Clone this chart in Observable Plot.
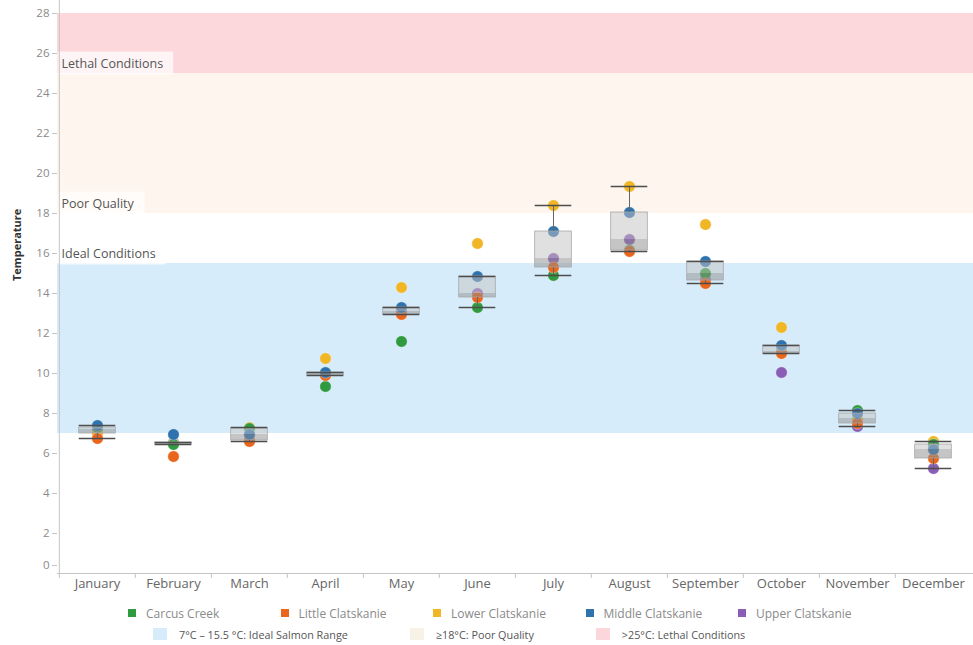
<!DOCTYPE html>
<html>
<head>
<meta charset="utf-8">
<script src="https://cdn.jsdelivr.net/npm/d3@7"></script>
<script src="https://cdn.jsdelivr.net/npm/@observablehq/plot@0.6"></script>
<style>
  body { margin: 0; background: #fff; font-family: "Open Sans", sans-serif; }
  #chart { width: 973px; }
  #chart svg { display: block; }
  .legend-row { display: flex; align-items: center; white-space: nowrap; }
  .legend-sites { margin-top: 5px; padding-left: 128px; height: 16px; }
  .legend-sites .item { width: 152.5px; display: flex; align-items: center; font-size: 12px; color: #8a8a8a; }
  .legend-sites .sw { width: 8px; height: 8px; margin-right: 10px; flex: none; }
  .legend-bands { margin-top: 5px; padding-left: 153px; height: 16px; gap: 62px; }
  .legend-bands .item { display: flex; align-items: center; font-size: 10.8px; color: #555; }
  .legend-bands .sw { width: 14px; height: 12px; margin-right: 12px; flex: none; }
</style>
</head>
<body>
<div id="chart"></div>
<script>
// Months on the x axis
const months = ["January", "February", "March", "April", "May", "June",
  "July", "August", "September", "October", "November", "December"];

// Monitoring sites and their colours
const sites = ["Carcus Creek", "Little Clatskanie", "Lower Clatskanie", "Middle Clatskanie", "Upper Clatskanie"];
const siteColors = ["#2f9a3f", "#ea661d", "#f0b625", "#2f73ae", "#8a5db6"];

// Monthly water temperature (°C) at each site, January → December
const carcusCreek      = [7.30, 6.45, 7.25,  9.35, 11.60, 13.30, 14.90, 16.15, 15.00, 11.10, 8.15, 6.45];
const littleClatskanie = [6.75, 5.85, 6.60,  9.90, 12.95, 13.80, 15.30, 16.10, 14.50, 11.00, 7.50, 5.75];
const lowerClatskanie  = [7.00, 6.50, 7.30, 10.75, 14.30, 16.50, 18.40, 19.35, 17.45, 12.30, 7.75, 6.60];
const middleClatskanie = [7.40, 6.95, 6.95, 10.05, 13.30, 14.85, 17.10, 18.05, 15.60, 11.40, 8.00, 6.20];
const upperClatskanie  = [7.20, 6.55, 6.65, 10.00, 13.10, 14.00, 15.75, 16.70, 14.65, 10.05, 7.35, 5.25];

// Temperature thresholds for salmon
const bandNames  = ["Ideal Conditions", "Poor Quality", "Lethal Conditions"];
const bandLow    = [7, 18, 25];
const bandHigh   = [15.5, 25, 28];
const bandLabelAt = [15.5, 18, 25];   // threshold each label sits on
const bandLegend = ["7°C – 15.5 °C: Ideal Salmon Range", "≥18°C: Poor Quality", ">25°C: Lethal Conditions"];
const bandColors = ["#d6ecfa", "#fdf5ee", "#fcd7dc"];
const bandSwatch = ["#d6ecfa", "#f6f2e5", "#fbd6da"];

// Y axis tick values
const tempTicks = [0, 2, 4, 6, 8, 10, 12, 14, 16, 18, 20, 22, 24, 26, 28];

// ---- derived tables ----
const seriesBySite = [carcusCreek, littleClatskanie, lowerClatskanie, middleClatskanie, upperClatskanie];
// draw order of the dots (later ones sit on top)
const drawOrder = [4, 2, 0, 1, 3];
const rows = drawOrder.flatMap(j => months.map((m, i) => ({month: m, site: sites[j], temp: seriesBySite[j][i]})));

// Box-and-whisker statistics per month (whiskers to the last value within 1.5 IQR)
const stats = months.map((m, i) => {
  const v = seriesBySite.map(s => s[i]).sort(d3.ascending);
  const q1 = d3.quantile(v, 0.25), med = d3.quantile(v, 0.5), q3 = d3.quantile(v, 0.75);
  const iqr = q3 - q1;
  const lo = d3.min(v.filter(x => x >= q1 - 1.5 * iqr));
  const hi = d3.max(v.filter(x => x <= q3 + 1.5 * iqr));
  return {month: m, q1, med, q3, lo, hi};
});

const bands = bandNames.map((name, i) => ({name, lo: bandLow[i], hi: bandHigh[i], at: bandLabelAt[i]}));

// ---- layout ----
const W = 973, H = 600, ML = 57, MB = 27;
const bw = (W - ML) / months.length;    // width of one month band
const boxInset = bw * 0.258;            // boxes take about half a band
const yTop = (H - MB) / 20;             // 20 px per degree

const bandMarks = bands.map((b, i) =>
  Plot.rect([b], {y1: "lo", y2: "hi", fill: bandColors[i]}));

const chart = Plot.plot({
  width: W, height: H,
  marginLeft: ML, marginRight: 0, marginTop: 0, marginBottom: MB,
  style: {fontFamily: "'Open Sans', sans-serif", background: "transparent", overflow: "visible"},
  x: {type: "band", domain: months, padding: 0, label: null},
  y: {domain: [0, yTop], label: null},
  color: {domain: sites, range: siteColors},
  marks: [
    ...bandMarks,
    // threshold labels
    Plot.text(bands, {
      y: "at", text: "name", frameAnchor: "left", textAnchor: "start",
      dx: 4, dy: -10, fontSize: 12.5, fill: "#555"
    }),
    // axes
    Plot.ruleY([0], {stroke: "#c4c4c4"}),
    Plot.ruleX([months[0]], {x: d => d, dx: -bw / 2, stroke: "#c4c4c4"}),
    Plot.ruleX(months, {x: d => d, dx: -bw / 2, y1: 0, y2: -0.25, stroke: "#c4c4c4"}),
    Plot.axisX({tickSize: 0, tickPadding: 5, fontSize: 13, color: "#666"}),
    Plot.axisY({ticks: tempTicks.filter(t => t > 0), tickSize: 5, tickPadding: 3, fontSize: 11.5, color: "#8a8a8a", stroke: "#c4c4c4"}),
    Plot.axisY({ticks: [0], tickSize: 5, tickPadding: 3, fontSize: 11.5, color: "#8a8a8a", stroke: "#c4c4c4", dy: -8}),
    Plot.text(["Temperature"], {text: d => d, frameAnchor: "left", rotate: -90, dx: -40, dy: -6, fontSize: 11, fontWeight: "bold", fill: "#333"}),
    // site readings
    Plot.dot(rows, {x: "month", y: "temp", fill: "site", r: 5.7, stroke: "#fff", strokeWidth: 0.6, strokeOpacity: 0.6}),
    // boxes (drawn over the dots, translucent)
    Plot.barY(stats, {x: "month", y1: "med", y2: "q3", fill: "#c2c2c2", fillOpacity: 0.5, insetLeft: boxInset, insetRight: boxInset}),
    Plot.barY(stats, {x: "month", y1: "q1", y2: "med", fill: "#8c8c8c", fillOpacity: 0.5, insetLeft: boxInset, insetRight: boxInset}),
    Plot.barY(stats, {x: "month", y1: "q1", y2: "q3", fill: "none", stroke: "#a8a8a8", strokeWidth: 0.8, insetLeft: boxInset, insetRight: boxInset}),
    // whiskers
    Plot.ruleX(stats, {x: "month", y1: "q3", y2: "hi", stroke: "#666", strokeWidth: 1}),
    Plot.ruleX(stats, {x: "month", y1: "lo", y2: "q1", stroke: "#666", strokeWidth: 1}),
    Plot.tickY(stats, {x: "month", y: "hi", stroke: "#4d4d4d", strokeWidth: 1.6, insetLeft: boxInset, insetRight: boxInset}),
    Plot.tickY(stats, {x: "month", y: "lo", stroke: "#4d4d4d", strokeWidth: 1.6, insetLeft: boxInset, insetRight: boxInset})
  ]
});

const root = document.getElementById("chart");
root.appendChild(chart);

// Light backdrop behind each threshold label
chart.querySelectorAll("text").forEach(t => {
  if (!bandNames.includes(t.textContent)) return;
  const bb = t.getBBox();
  const r = document.createElementNS("http://www.w3.org/2000/svg", "rect");
  r.setAttribute("x", bb.x - 4);
  r.setAttribute("y", bb.y - 3);
  r.setAttribute("width", bb.width + 14);
  r.setAttribute("height", bb.height + 6);
  r.setAttribute("fill", "#fff");
  r.setAttribute("fill-opacity", "0.72");
  const tr = t.getAttribute("transform");
  if (tr) r.setAttribute("transform", tr);
  t.parentNode.insertBefore(r, t);
});

// Legend: sites
const rowSites = document.createElement("div");
rowSites.className = "legend-row legend-sites";
sites.forEach((s, i) => {
  const item = document.createElement("div");
  item.className = "item";
  item.innerHTML = `<span class="sw" style="background:${siteColors[i]}"></span><span>${s}</span>`;
  rowSites.appendChild(item);
});
root.appendChild(rowSites);

// Legend: threshold bands
const rowBands = document.createElement("div");
rowBands.className = "legend-row legend-bands";
bandLegend.forEach((s, i) => {
  const item = document.createElement("div");
  item.className = "item";
  item.innerHTML = `<span class="sw" style="background:${bandSwatch[i]}"></span><span>${s}</span>`;
  rowBands.appendChild(item);
});
root.appendChild(rowBands);
</script>
</body>
</html>
